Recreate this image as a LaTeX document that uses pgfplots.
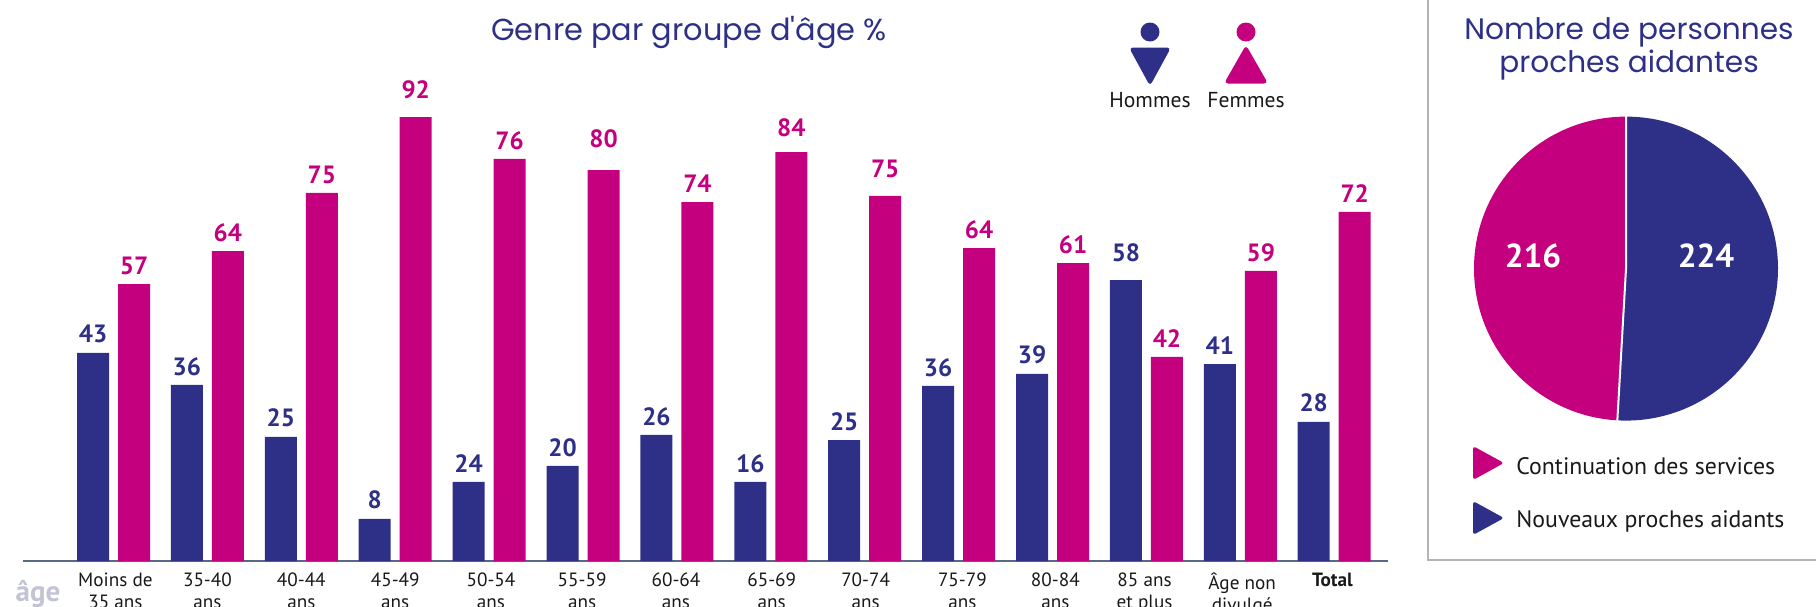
\documentclass[border=0pt]{standalone}
\usepackage{fontspec}
\usepackage{pgfplots}
\pgfplotsset{compat=1.18}
\setmainfont{PT Sans}
\newfontfamily\titlefont{Poppins}
\definecolor{navy}{HTML}{2E3087}
\definecolor{mag}{HTML}{C5007F}
\definecolor{panelgray}{HTML}{B4B4B4}
\definecolor{axisline}{HTML}{5A6885}
\definecolor{agegray}{HTML}{C2C3D4}
% hbar, fbar: bar heights as drawn; hlab, flab: values as printed; hdy, fdy: label gap above the bar in pt
\pgfplotstableread{
x hbar fbar hlab flab hdy fdy
0 42.9 57.1 43 57 9.3 9.0
1 36.3 63.9 36 64 9.3 9.0
2 25.6 75.9 25 75 9.3 9.0
3 8.7 91.5 8 92 9.3 13.9
4 16.3 82.9 24 76 9.0 9.3
5 19.6 80.6 20 80 9.3 15.6
6 26.0 74.0 26 74 9.0 9.3
7 16.3 84.3 16 84 9.0 12.3
8 24.9 75.3 25 75 9.3 13.6
9 36.1 64.5 36 64 9.3 9.3
10 38.6 61.4 39 61 9.3 9.3
11 57.9 42.1 58 42 13.6 9.3
12 40.6 59.8 41 59 9.3 9.3
13 28.7 72.0 28 72 9.3 9.3
}\agedata
\begin{document}
\begin{tikzpicture}
\useasboundingbox (0,0) rectangle (908pt,-303pt);
\begin{axis}[
  at={(11.5pt,-280.5pt)}, anchor=south west,
  x=46.95pt, y=2.425pt,
  xmin=-0.964, xmax=13.573, ymin=0, ymax=100,
  ybar, bar width=16pt,
  axis x line=bottom, axis y line=none,
  x axis line style={-, color=axisline, line width=1pt},
  xtick={0.02,1,2,3,4.02,4.99,5.99,7.01,8.01,9.04,10.03,10.98,12.02,12.98},
  xtick style={draw=none},
  xticklabels={{Moins de\\35 ans},{35-40\\ans},{40-44\\ans},{45-49\\ans},{50-54\\ans},{55-59\\ans},{60-64\\ans},{65-69\\ans},{70-74\\ans},{75-79\\ans},{80-84\\ans},{85 ans\\et plus},{Âge non\\divulgé},{\textbf{Total}}},
  xticklabel style={align=center, yshift=-0.4pt, font=\fontsize{9.6}{10.85}\selectfont, text=black!90},
  clip=false,
  point meta=explicit,
  /pgf/number format/assume math mode=true,
  nodes near coords,
  nodes near coords style={anchor=center, yshift=\labdy pt, font=\fontsize{12.5}{14}\selectfont\bfseries},
]
\addplot[fill=navy, draw=none, bar shift=-10.25pt, text=navy, visualization depends on={\thisrow{hdy} \as \labdy}] table[x=x, y=hbar, meta=hlab] {\agedata};
\addplot[fill=mag, draw=none, bar shift=10.25pt, text=mag, visualization depends on={\thisrow{fdy} \as \labdy}] table[x=x, y=fbar, meta=flab] {\agedata};
\end{axis}
\begin{axis}[
  at={(813pt,-134.3pt)}, anchor=center,
  x=0.5pt, y=0.5pt,
  xmin=-160, xmax=160, ymin=-160, ymax=160,
  hide axis, clip=false,
]
\pgfmathsetmacro{\nouv}{224}
\pgfmathsetmacro{\cont}{216}
\pgfmathsetmacro{\endang}{90-360*(\nouv/(\nouv+\cont))}
\pgfmathsetmacro{\ex}{154*cos(\endang)}
\pgfmathsetmacro{\ey}{154*sin(\endang)}
\fill[navy] (axis cs:0,0) -- (axis cs:0,152) arc[start angle=90, end angle=\endang, radius=76pt] -- cycle;
\fill[mag] (axis cs:0,0) -- (axis cs:0,152) arc[start angle=90, end angle=\endang+360, radius=76pt] -- cycle;
\draw[white, line width=1pt] (axis cs:0,154) -- (axis cs:0,0) -- (axis cs:\ex,\ey);
\end{axis}
\begin{scope}[x=0.5pt,y=-0.5pt]
\draw[panelgray, line width=0.8pt] (1428,-2) -- (1428,560) -- (1820,560);
\node[text=navy, font=\titlefont\fontsize{15.2}{17}\selectfont] at (689,33) {Genre par groupe d'âge \%};
\node[text=navy, font=\titlefont\fontsize{14.8}{16.6}\selectfont, align=center] at (1629,49) {Nombre de personnes\\proches aidantes};
% gender icons
\fill[navy] (1150,32) circle[radius=9.5];
\fill[navy, rounded corners=2pt] (1129,47.5) -- (1171,47.5) -- (1150,86) -- cycle;
\fill[mag] (1246,32) circle[radius=9.5];
\fill[mag, rounded corners=2pt] (1246,45) -- (1268,83.5) -- (1224,83.5) -- cycle;
\node[font=\fontsize{10.8}{12}\selectfont, text=black!90] at (1150,100) {Hommes};
\node[font=\fontsize{10.8}{12}\selectfont, text=black!90] at (1246,100) {Femmes};
% pie labels
\node[text=white, font=\fontsize{16.6}{18}\selectfont\bfseries] at (1533,256) {216};
\node[text=white, font=\fontsize{16.6}{18}\selectfont\bfseries] at (1706,256) {224};
% legend
\fill[mag, rounded corners=1.5pt] (1473,446) -- (1504,463) -- (1473,480) -- cycle;
\fill[navy, rounded corners=1.5pt] (1473,501) -- (1504,518) -- (1473,535) -- cycle;
\node[anchor=west, inner sep=0pt, font=\fontsize{11.9}{13}\selectfont, text=black!90] at (1516,466) {Continuation des services};
\node[anchor=west, inner sep=0pt, font=\fontsize{11.9}{13}\selectfont, text=black!90] at (1516,521) {Nouveaux proches aidants};
% age
\node[text=agegray, font=\fontsize{14.5}{16}\selectfont\bfseries] at (38,594) {âge};
\end{scope}
\end{tikzpicture}
\end{document}
